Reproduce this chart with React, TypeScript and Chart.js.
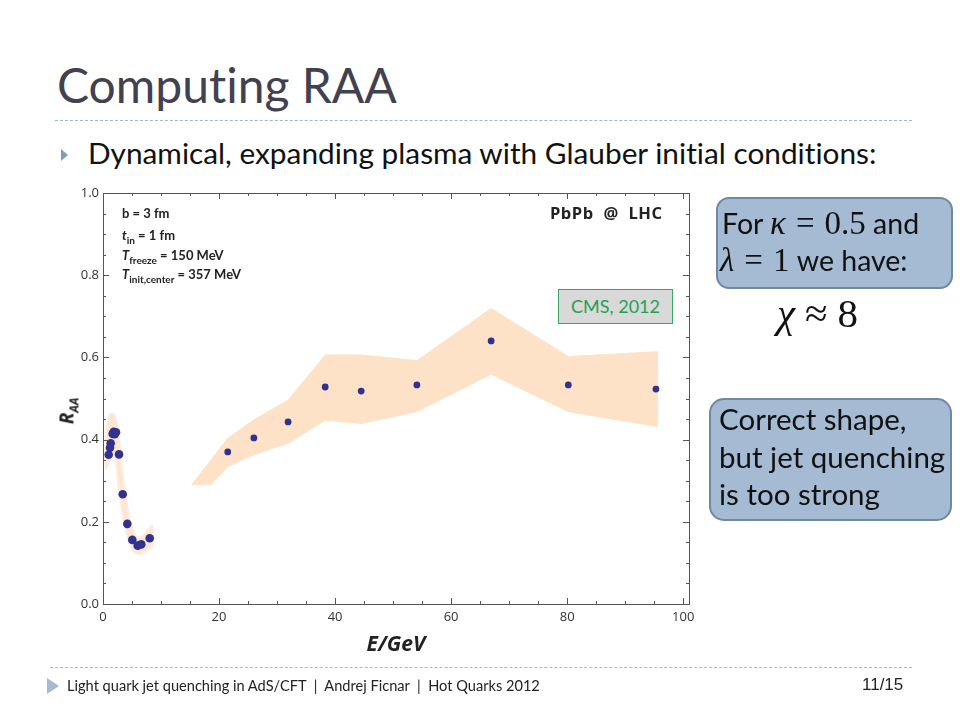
import React, { useEffect, useRef } from "react";
import { Chart, registerables } from "chart.js";
Chart.register(...registerables);

// ---- data (E in GeV, R_AA) ----
const theoryE = [0.98, 1.21, 1.33, 1.67, 1.84, 2.02, 2.24, 2.76, 3.4, 4.19, 5.05, 5.98, 6.6, 8.05];
const theoryRAA = [0.363, 0.38, 0.391, 0.414, 0.419, 0.413, 0.418, 0.364, 0.267, 0.195, 0.156, 0.142, 0.145, 0.16];

const cmsE = [21.5, 26.0, 31.9, 38.3, 44.5, 54.1, 66.9, 80.2, 95.3];
const cmsRAA = [0.37, 0.404, 0.443, 0.528, 0.518, 0.533, 0.64, 0.533, 0.523];

const bandUpperE = [15.3, 21.5, 26.0, 31.9, 38.3, 44.5, 54.1, 66.9, 80.2, 95.5];
const bandUpper = [0.29, 0.403, 0.448, 0.496, 0.606, 0.606, 0.592, 0.719, 0.602, 0.614];
const bandLowerE = [15.3, 18.6, 21.5, 26.0, 31.9, 38.3, 44.5, 54.1, 66.9, 80.2, 95.5];
const bandLower = [0.29, 0.29, 0.334, 0.363, 0.391, 0.447, 0.439, 0.468, 0.559, 0.468, 0.432];

const tubeUpperE = [0.34, 0.69, 1.21, 1.9, 2.59, 3.28, 4.14, 5.0, 5.86, 6.72, 7.76, 8.45];
const tubeUpper = [0.363, 0.436, 0.462, 0.462, 0.423, 0.326, 0.241, 0.187, 0.163, 0.163, 0.18, 0.19];
const tubeLowerE = [0.5, 0.9, 1.5, 2.07, 2.76, 3.62, 4.48, 5.34, 6.38, 7.41, 8.45];
const tubeLower = [0.33, 0.34, 0.36, 0.363, 0.277, 0.2, 0.151, 0.127, 0.122, 0.129, 0.139];

const xTickLabels = ["0", "20", "40", "60", "80", "100"];
const yTickLabels = ["0.0", "0.2", "0.4", "0.6", "0.8", "1.0"];

const X_MIN = 0, X_MAX = 101, Y_MIN = 0, Y_MAX = 1;

function pts(xs: number[], ys: number[]) {
  return xs.map((x, i) => ({ x, y: ys[i] }));
}
function polygon(ux: number[], uy: number[], lx: number[], ly: number[]) {
  const up = pts(ux, uy);
  const lo = pts(lx, ly).reverse();
  return [...up, ...lo, up[0]];
}

const framePlugin = {
  id: "frameTicks",
  afterDraw(chart: any) {
    const { ctx, chartArea: a, scales } = chart;
    const xs = scales.x, ys = scales.y;
    ctx.save();
    ctx.strokeStyle = "#555";
    ctx.lineWidth = 1;
    ctx.strokeRect(Math.round(a.left) + 0.5, Math.round(a.top) + 0.5, Math.round(a.right - a.left), Math.round(a.bottom - a.top));
    ctx.beginPath();
    for (let i = 0; i <= 20; i++) {
      const v = i * 5;
      const px = Math.round(xs.getPixelForValue(v)) + 0.5;
      const len = i % 4 === 0 ? 6 : 3;
      ctx.moveTo(px, a.bottom); ctx.lineTo(px, a.bottom - len);
      ctx.moveTo(px, a.top); ctx.lineTo(px, a.top + len);
    }
    for (let i = 0; i <= 20; i++) {
      const v = i * 0.05;
      const py = Math.round(ys.getPixelForValue(v)) + 0.5;
      const len = i % 4 === 0 ? 6 : 3;
      ctx.moveTo(a.left, py); ctx.lineTo(a.left + len, py);
      ctx.moveTo(a.right, py); ctx.lineTo(a.right - len, py);
    }
    ctx.stroke();
    ctx.restore();
  },
};

function RaaChart() {
  const ref = useRef<HTMLCanvasElement | null>(null);
  useEffect(() => {
    if (!ref.current) return;
    const chart = new Chart(ref.current, {
      type: "scatter",
      data: {
        datasets: [
          {
            label: "Theory",
            data: pts(theoryE, theoryRAA),
            backgroundColor: "#31328f",
            borderColor: "#31328f",
            pointRadius: 4.3,
            pointBorderWidth: 0,
            showLine: false,
            order: 0,
          },
          {
            label: "CMS, 2012",
            data: pts(cmsE, cmsRAA),
            backgroundColor: "#31328f",
            borderColor: "#31328f",
            pointRadius: 3.4,
            pointBorderWidth: 0,
            showLine: false,
            order: 1,
          },
          {
            label: "CMS band",
            data: polygon(bandUpperE, bandUpper, bandLowerE, bandLower),
            showLine: true,
            fill: "shape",
            backgroundColor: "rgba(253,226,200,1)",
            borderColor: "rgba(253,226,200,1)",
            borderWidth: 1,
            pointRadius: 0,
            tension: 0,
            order: 3,
          },
          {
            label: "Theory band",
            data: polygon(tubeUpperE, tubeUpper, tubeLowerE, tubeLower),
            showLine: true,
            fill: "shape",
            backgroundColor: "rgba(252,230,210,1)",
            borderColor: "rgba(253,236,222,1)",
            borderWidth: 2,
            pointRadius: 0,
            tension: 0.2,
            order: 4,
          },
        ],
      },
      options: {
        animation: false,
        responsive: false,
        maintainAspectRatio: false,
        layout: { padding: { left: 40, right: 271, top: 193, bottom: 40 } },
        plugins: { legend: { display: false }, tooltip: { enabled: false } },
        scales: {
          x: {
            type: "linear",
            min: X_MIN,
            max: X_MAX,
            grid: { display: false, drawTicks: false },
            border: { display: false },
            afterFit: (s: any) => { s.height = 76; },
            afterBuildTicks: (s: any) => {
              s.ticks = xTickLabels.map((t) => ({ value: Number(t), label: t }));
            },
            ticks: {
              padding: 5,
              maxRotation: 0,
              color: "#333",
              font: { family: "'Open Sans', sans-serif", size: 13 },
              callback: (v: any) => String(v),
            },
            title: {
              display: true,
              text: "E/GeV",
              color: "#222",
              font: { family: "'Open Sans', sans-serif", size: 21, weight: "bold", style: "italic" },
              padding: { top: 0, bottom: 22 },
            },
          },
          y: {
            type: "linear",
            min: Y_MIN,
            max: Y_MAX,
            grid: { display: false, drawTicks: false },
            border: { display: false },
            afterFit: (s: any) => { s.width = 63; },
            afterBuildTicks: (s: any) => {
              s.ticks = yTickLabels.map((t) => ({ value: Number(t), label: t }));
            },
            ticks: {
              padding: 4,
              color: "#333",
              font: { family: "'Open Sans', sans-serif", size: 13 },
              callback: (v: any) => Number(v).toFixed(1),
            },
          },
        },
      },
      plugins: [framePlugin],
    });
    return () => chart.destroy();
  }, []);
  return <canvas ref={ref} width={960} height={720} style={{ position: "absolute", left: 0, top: 0, width: 960, height: 720 }} />;
}

const abs = (left: number, top: number, extra: React.CSSProperties = {}): React.CSSProperties => ({
  position: "absolute", left, top, whiteSpace: "nowrap", ...extra,
});

export default function App() {
  const sans = "Lato, 'Open Sans', sans-serif";
  const serif = "'Liberation Serif', 'DejaVu Serif', serif";
  const annot: React.CSSProperties = { fontFamily: sans, fontWeight: 700, fontSize: 13, color: "#222", lineHeight: "16px" };
  const mathI: React.CSSProperties = { fontFamily: serif, fontStyle: "italic", fontSize: 33 };
  const mathR: React.CSSProperties = { fontFamily: serif, fontSize: 33 };
  return (
    <div style={{ position: "fixed", left: 0, top: 0, width: 960, height: 720, background: "#fff", overflow: "hidden", fontFamily: sans, fontVariantLigatures: "none" }}>
      {/* title */}
      <div style={abs(57, 55, { fontSize: 48, color: "#41414f", lineHeight: "60px" })}>Computing RAA</div>
      <div style={abs(55, 120, { width: 857, borderTop: "1px dashed #9fb6c8" })} />
      {/* bullet */}
      <div style={abs(61, 149, { width: 0, height: 0, borderTop: "6px solid transparent", borderBottom: "6px solid transparent", borderLeft: "7px solid #7f9cbc" })} />
      <div style={abs(88, 135, { fontSize: 29.8, color: "#111", lineHeight: "36px" })}>Dynamical, expanding plasma with Glauber initial conditions:</div>

      <RaaChart />

      {/* y axis title */}
      <div style={abs(57, 396, { fontFamily: "'Open Sans', sans-serif", fontWeight: 700, fontStyle: "italic", fontSize: 19, color: "#222", transform: "rotate(-90deg)", transformOrigin: "center", lineHeight: "22px" })}>
        R<sub style={{ fontSize: 12 }}>AA</sub>
      </div>

      {/* annotations in plot */}
      <div style={abs(122, 205, annot)}>b = 3 fm</div>
      <div style={abs(122, 227, annot)}><i>t</i><sub style={{ fontSize: 10 }}>in</sub> = 1 fm</div>
      <div style={abs(122, 247, annot)}><i>T</i><sub style={{ fontSize: 10 }}>freeze</sub> = 150 MeV</div>
      <div style={abs(122, 266, annot)}><i>T</i><sub style={{ fontSize: 10 }}>init,center</sub> = 357 MeV</div>
      <div style={abs(550, 202, { fontFamily: "'Open Sans', sans-serif", fontWeight: 700, fontSize: 16.5, color: "#222", lineHeight: "22px", letterSpacing: 0.5, wordSpacing: 5 })}>PbPb @ LHC</div>

      {/* CMS label */}
      <div style={abs(558, 289, { width: 113, height: 33, background: "#d9d9d9", border: "1px solid #37a862", color: "#22a152", fontSize: 18, textAlign: "center", lineHeight: "33px" })}>CMS, 2012</div>

      {/* right boxes */}
      <div style={abs(716, 197, { width: 237, height: 92, background: "#a5bbd4", border: "2px solid #6f88a5", borderRadius: 13, boxSizing: "border-box" })} />
      <div style={abs(722, 205, { fontSize: 28.5, color: "#111", lineHeight: "37px" })}>
        For <span style={mathI}>κ</span>
        <span style={{ ...mathR, padding: "0 10px" }}>=</span>
        <span style={mathR}>0.5</span> and
      </div>
      <div style={abs(720, 242, { fontSize: 28.5, color: "#111", lineHeight: "37px" })}>
        <span style={mathI}>λ</span>
        <span style={{ ...mathR, padding: "0 10px" }}>=</span>
        <span style={mathR}>1</span> we have:
      </div>
      <div style={abs(777, 290, { fontFamily: serif, fontSize: 41, color: "#111", lineHeight: "46px" })}>
        <i>χ</i><span style={{ padding: "0 10px" }}>≈</span>8
      </div>

      <div style={abs(709, 398, { width: 243, height: 123, background: "#a5bbd4", border: "2px solid #6f88a5", borderRadius: 15, boxSizing: "border-box" })} />
      <div style={abs(719, 400, { fontSize: 29.5, color: "#111", lineHeight: "37.5px" })}>
        Correct shape,<br />but jet quenching<br />is too strong
      </div>

      {/* footer */}
      <div style={abs(50, 667, { width: 862, borderTop: "1px dashed #a9bccd" })} />
      <div style={abs(47, 678, { width: 0, height: 0, borderTop: "8px solid transparent", borderBottom: "8px solid transparent", borderLeft: "12px solid #a8bad0" })} />
      <div style={abs(67, 677, { fontSize: 14.6, color: "#222", lineHeight: "18px" })}>
        Light quark jet quenching in AdS/CFT &nbsp;|&nbsp; Andrej Ficnar &nbsp;|&nbsp; Hot Quarks 2012
      </div>
      <div style={abs(862, 675, { fontFamily: "'Liberation Sans Narrow', 'Liberation Sans', sans-serif", fontSize: 17, color: "#222", lineHeight: "20px" })}>11/15</div>
    </div>
  );
}
